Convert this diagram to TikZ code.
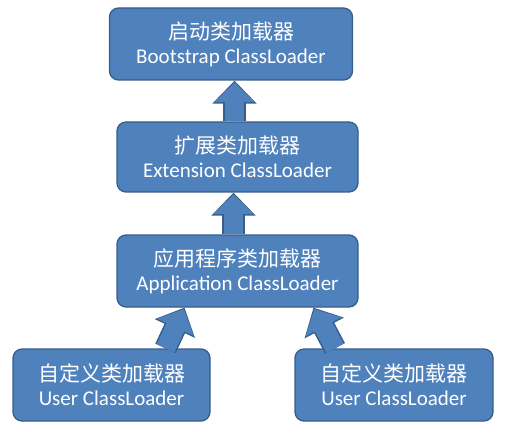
\documentclass[tikz,border=0pt]{standalone}
\usepackage{fontspec}
\setmainfont{Carlito}
\newfontfamily\cjk{Noto Sans CJK SC}
\usetikzlibrary{arrows.meta}

\definecolor{boxblue}{HTML}{4F81BD}
\definecolor{edgeblue}{HTML}{385D8A}

\tikzstyle{loader}=[rectangle,rounded corners=9pt,draw=edgeblue,line width=1.3pt,fill=boxblue,
  text=white,align=center,inner sep=0pt,font=\fontsize{21}{24}\selectfont]
\tikzstyle{liftout}=[edgeblue,line width=22.5pt,-{Triangle[width=43pt 0 0,length=23pt 0 0]}]
\tikzstyle{lift}=[boxblue,line width=19.5pt,shorten >=1.6pt,-{Triangle[width=39pt 0 0,length=20pt 0 0]}]

\begin{document}
\begin{tikzpicture}[x=1pt,y=-1pt]
  \useasboundingbox (0,0) rectangle (516,438);
  \node (boot) [loader,minimum width=243pt,minimum height=72pt] at (231,44)
    {{\cjk 启动类加载器}\\Bootstrap ClassLoader};
  \node (ext) [loader,minimum width=241pt,minimum height=70pt] at (237.5,157)
    {{\cjk 扩展类加载器}\\Extension ClassLoader};
  \node (app) [loader,minimum width=241pt,minimum height=72pt] at (237.5,271)
    {{\cjk 应用程序类加载器}\\Application ClassLoader};
  \node (userA) [loader,minimum width=197pt,minimum height=72pt] at (111.5,385)
    {{\cjk 自定义类加载器}\\User ClassLoader};
  \node (userB) [loader,minimum width=198pt,minimum height=72pt] at (394,385)
    {{\cjk 自定义类加载器}\\User ClassLoader};
  \foreach \st in {liftout,lift} {
    \draw[\st] ([xshift=-3pt]ext.north) -- ([xshift=3.5pt]boot.south);
    \draw[\st] ([xshift=-4pt]app.north) -- ([xshift=-4pt]ext.south);
    \draw[\st] ([xshift=54pt]userA.north) -- ([xshift=-53pt]app.south);
    \draw[\st] ([xshift=-59pt]userB.north) -- ([xshift=76pt]app.south);
  }
\end{tikzpicture}
\end{document}
